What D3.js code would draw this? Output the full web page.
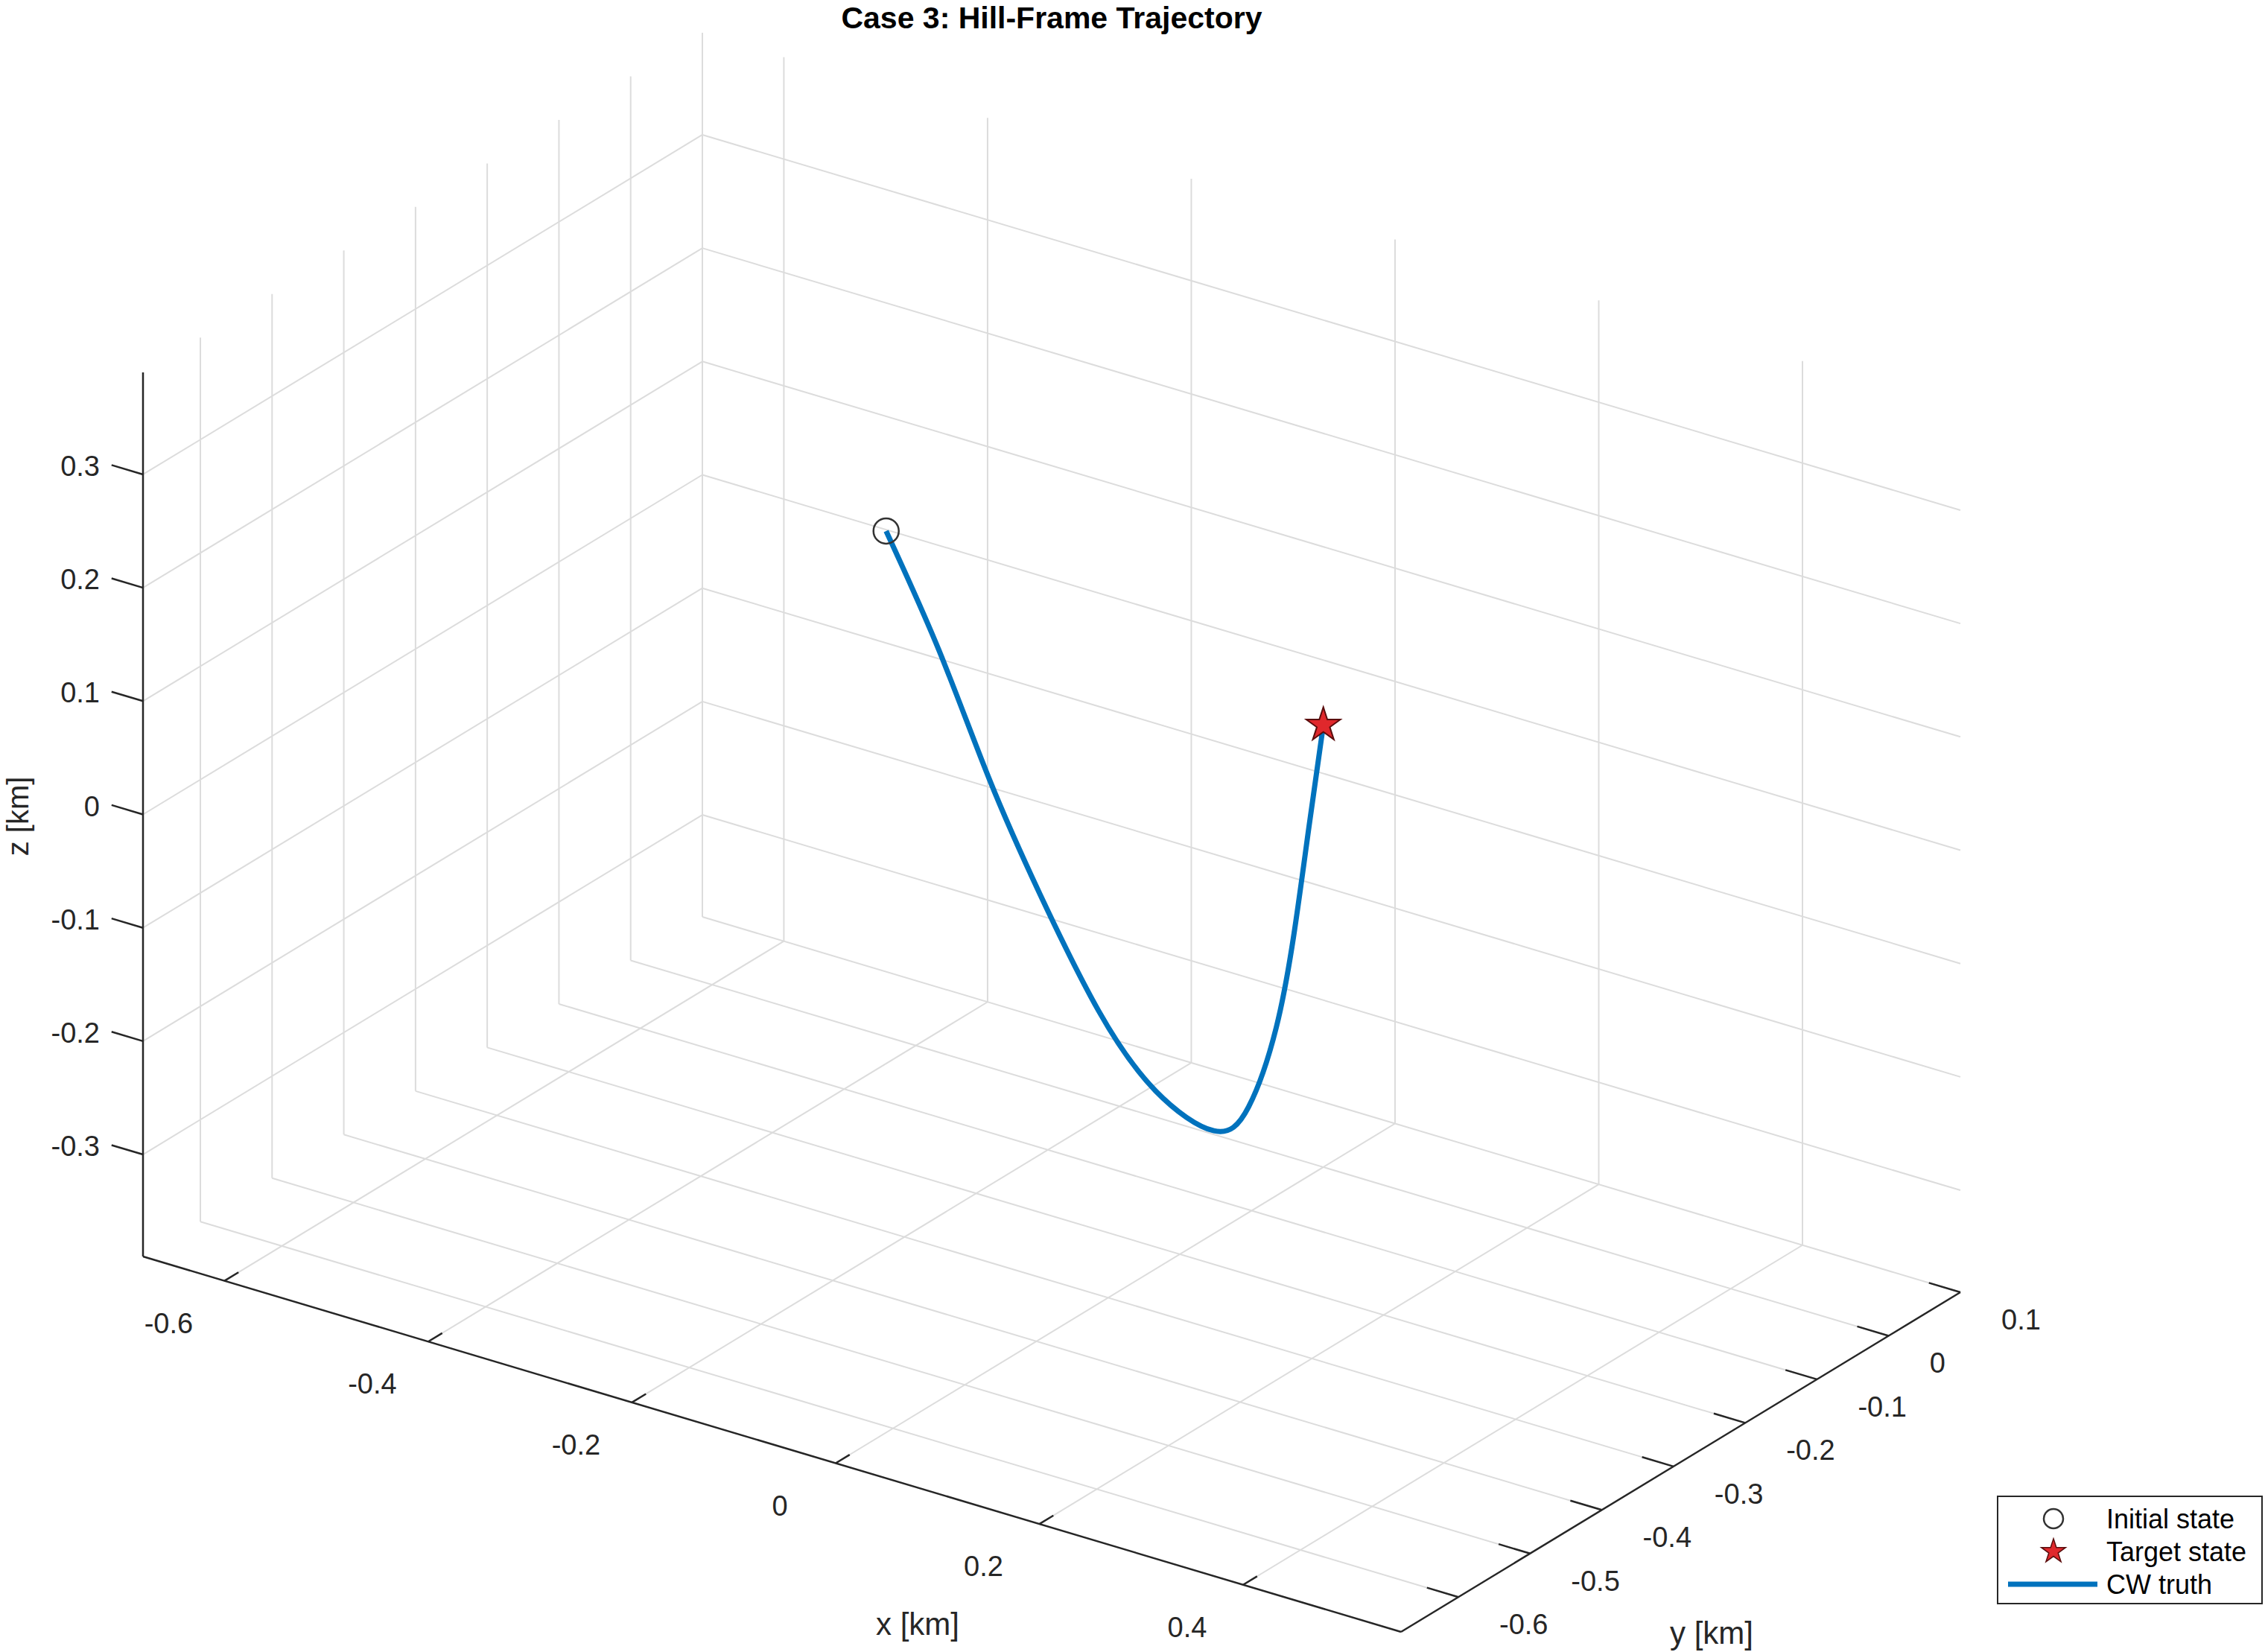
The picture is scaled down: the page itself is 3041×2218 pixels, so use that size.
<!DOCTYPE html>
<html>
<head>
<meta charset="utf-8">
<script src="https://cdn.jsdelivr.net/npm/d3@7"></script>
<style>
  body { margin: 0; background: #fff; }
  text { font-family: Arial, "Liberation Sans", sans-serif; }
</style>
</head>
<body>
<script>
// trajectory samples (km), Hill frame
const trajX = [-0.218, -0.187, -0.159, -0.130, -0.094, -0.059, -0.023, -0.010, -0.004, 0.000, 0.000, 0.000];
const trajY = [-0.30, -0.27, -0.24, -0.21, -0.18, -0.15, -0.12, -0.09, -0.06, -0.04, -0.02, 0.00];
const trajZ = [0.228, 0.119, 0.002, -0.104, -0.208, -0.281, -0.318, -0.305, -0.245, -0.165, -0.082, 0.000];
const initState = [-0.218, -0.30, 0.228];
const targetState = [0, 0, 0];

const xDomain = [-0.68, 0.555];
const yDomain = [-0.68, 0.10];
const zDomain = [-0.39, 0.39];
const xTicks = [-0.6, -0.4, -0.2, 0, 0.2, 0.4];
const yTicks = [-0.6, -0.5, -0.4, -0.3, -0.2, -0.1, 0, 0.1];
const zTicks = [-0.3, -0.2, -0.1, 0, 0.1, 0.2, 0.3];

const W = 3041, H = 2218;
const svg = d3.select("body").append("svg").attr("width", W).attr("height", H);

const fx = d3.scaleLinear().domain(xDomain).range([0, 1]);
const fy = d3.scaleLinear().domain(yDomain).range([0, 1]);
const fz = d3.scaleLinear().domain(zDomain).range([0, 1]);

// projected box: origin corner (xmin,ymin,zmin) and edge vectors
const O = [192, 1687], VX = [1689, 504], VY = [751, -456], VZ = [0, -1187];
function proj(x, y, z) {
  const a = fx(x), b = fy(y), c = fz(z);
  return [O[0] + a * VX[0] + b * VY[0] + c * VZ[0],
          O[1] + a * VX[1] + b * VY[1] + c * VZ[1]];
}
function seg(g, p, q, color, w) {
  g.append("line").attr("x1", p[0]).attr("y1", p[1]).attr("x2", q[0]).attr("y2", q[1])
    .attr("stroke", color).attr("stroke-width", w);
}

const [x0, x1] = xDomain, [y0, y1] = yDomain, [z0, z1] = zDomain;
const grid = svg.append("g");
const gc = "#dcdcdc", gw = 2;
yTicks.forEach(t => seg(grid, proj(x0, t, z0), proj(x0, t, z1), gc, gw));
zTicks.forEach(t => seg(grid, proj(x0, y0, t), proj(x0, y1, t), gc, gw));
xTicks.forEach(t => seg(grid, proj(t, y1, z0), proj(t, y1, z1), gc, gw));
zTicks.forEach(t => seg(grid, proj(x0, y1, t), proj(x1, y1, t), gc, gw));
xTicks.forEach(t => seg(grid, proj(t, y0, z0), proj(t, y1, z0), gc, gw));
yTicks.forEach(t => seg(grid, proj(x0, t, z0), proj(x1, t, z0), gc, gw));

// axes
const ax = svg.append("g");
const ac = "#262626", aw = 2.5;
seg(ax, proj(x0, y0, z0), proj(x1, y0, z0), ac, aw);
seg(ax, proj(x1, y0, z0), proj(x1, y1, z0), ac, aw);
seg(ax, proj(x0, y0, z0), proj(x0, y0, z1), ac, aw);

const fmt = d => (Math.abs(d) < 1e-9 ? "0" : String(+d.toFixed(1)));
const fs = 38;
const tl = 0.025;
xTicks.forEach(t => {
  const p = proj(t, y0, z0);
  seg(ax, p, proj(t, y0 + tl * (y1 - y0), z0), ac, aw);
  ax.append("text").attr("x", p[0] - 75).attr("y", p[1] + 70).attr("font-size", fs)
    .attr("text-anchor", "middle").attr("fill", ac).text(fmt(t));
});
yTicks.forEach(t => {
  const p = proj(x1, t, z0);
  seg(ax, p, proj(x1 - tl * (x1 - x0), t, z0), ac, aw);
  ax.append("text").attr("x", p[0] + 55).attr("y", p[1] + 50).attr("font-size", fs)
    .attr("text-anchor", "start").attr("fill", ac).text(fmt(t));
});
zTicks.forEach(t => {
  const p = proj(x0, y0, t);
  seg(ax, p, proj(x0 - tl * (x1 - x0), y0, t), ac, aw);
  ax.append("text").attr("x", p[0] - 58).attr("y", p[1] + 2).attr("font-size", fs)
    .attr("text-anchor", "end").attr("fill", ac).text(fmt(t));
});

ax.append("text").attr("x", 1232).attr("y", 2195).attr("font-size", 42)
  .attr("text-anchor", "middle").attr("fill", ac).text("x [km]");
ax.append("text").attr("x", 2298).attr("y", 2207).attr("font-size", 42)
  .attr("text-anchor", "middle").attr("fill", ac).text("y [km]");
ax.append("text").attr("transform", "translate(38,1096) rotate(-90)").attr("font-size", 40)
  .attr("text-anchor", "middle").attr("fill", ac).text("z [km]");

svg.append("text").attr("x", 1412).attr("y", 38).attr("font-size", 41).attr("font-weight", "bold")
  .attr("text-anchor", "middle").attr("fill", "#000").text("Case 3: Hill-Frame Trajectory");

// trajectory
const pts = trajX.map((x, i) => proj(x, trajY[i], trajZ[i]));
svg.append("path").attr("d", d3.line().curve(d3.curveNatural)(pts))
  .attr("fill", "none").attr("stroke", "#0072BD").attr("stroke-width", 7);

const star = d3.symbol().type(d3.symbolStar);
const pi = proj(...initState);
svg.append("circle").attr("cx", pi[0]).attr("cy", pi[1]).attr("r", 17)
  .attr("fill", "none").attr("stroke", "#333").attr("stroke-width", 2.5);
const pt = proj(...targetState);
svg.append("path").attr("d", star.size(650)()).attr("transform", `translate(${pt[0]},${pt[1]})`)
  .attr("fill", "#e0282c").attr("stroke", "#5a0d0d").attr("stroke-width", 2);

// legend
const lg = svg.append("g").attr("transform", "translate(2682,2009)");
lg.append("rect").attr("width", 355).attr("height", 144).attr("fill", "#fff")
  .attr("stroke", "#262626").attr("stroke-width", 2);
const items = ["Initial state", "Target state", "CW truth"];
items.forEach((s, i) => {
  const yy = 30 + i * 44;
  lg.append("text").attr("x", 146).attr("y", yy + 13).attr("font-size", 36).attr("fill", "#000").text(s);
});
lg.append("circle").attr("cx", 75).attr("cy", 30).attr("r", 13).attr("fill", "none")
  .attr("stroke", "#333").attr("stroke-width", 2.5);
lg.append("path").attr("d", star.size(330)()).attr("transform", "translate(75,74)")
  .attr("fill", "#e0282c").attr("stroke", "#5a0d0d").attr("stroke-width", 1.5);
seg(lg, [14, 118], [134, 118], "#0072BD", 7);
</script>
</body>
</html>
